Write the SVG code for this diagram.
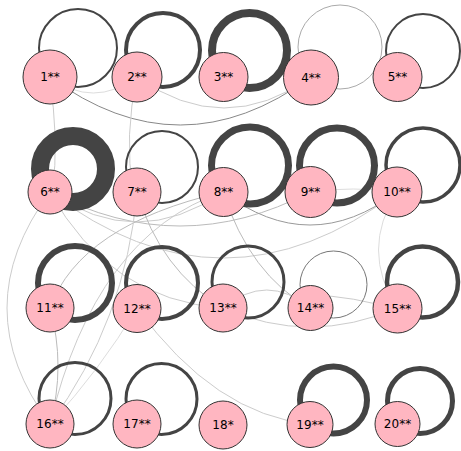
<svg xmlns="http://www.w3.org/2000/svg" width="461" height="451" viewBox="0 0 461 451">
<style>
.e{fill:none;stroke-width:1}
.l{fill:none;stroke:#444}
.n circle{fill:#ffb6c1;stroke:#333;stroke-width:1}
.n text{font-family:"DejaVu Sans",sans-serif;font-size:12px;fill:#000;text-anchor:middle;dominant-baseline:central}
</style>
<rect width="461" height="451" fill="#fff"/>
<g id="connectors">
<path class="e" stroke="#888" d="M50,77 Q180,173 311,77"/>
<path class="e" stroke="#ccc" d="M137,77 Q224,139 311,77"/>
<path class="e" stroke="#ddd" d="M50,77 Q93,109 137,77"/>
<path class="e" stroke="#ccc" d="M49,77 Q60,140 52,192"/>
<path class="e" stroke="#ccc" d="M137,77 Q124,135 133,192"/>
<path class="e" stroke="#ccc" d="M50,192 Q-36,308 50,424"/>
<path class="e" stroke="#ccc" d="M50,192 Q223,324 397,192"/>
<path class="e" stroke="#bbb" d="M50,192 Q180,260 310,192"/>
<path class="e" stroke="#ccc" d="M50,192 Q137,252 223,192"/>
<path class="e" stroke="#999" d="M223,192 Q310,258 397,192"/>
<path class="e" stroke="#ddd" d="M310,192 Q353,186 397,192"/>
<path class="e" stroke="#ddd" d="M397,192 Q360,250 397,308"/>
<path class="e" stroke="#bbb" d="M223,192 Q250,275 310,308"/>
<path class="e" stroke="#bbb" d="M223,192 Q80,225 50,308"/>
<path class="e" stroke="#ccc" d="M223,192 Q95,235 50,424"/>
<path class="e" stroke="#ccc" d="M137,192 Q126,320 50,424"/>
<path class="e" stroke="#bbb" d="M50,308 Q66,366 50,424"/>
<path class="e" stroke="#ddd" d="M137,308 Q100,370 50,424"/>
<path class="e" stroke="#ccc" d="M137,308 Q215,415 310,424"/>
<path class="e" stroke="#ccc" d="M50,192 Q110,300 223,308"/>
<path class="e" stroke="#bbb" d="M137,192 Q160,270 223,308"/>
<path class="e" stroke="#ccc" d="M223,308 Q267,272 310,308"/>
<path class="e" stroke="#ccc" d="M310,295 Q354,296 397,310"/>
<path class="e" stroke="#ccc" d="M223,308 Q310,346 397,308"/>
</g>
<g id="loops">
<circle class="l" cx="78" cy="48" r="39" stroke-width="2"/>
<circle class="l" cx="163" cy="50" r="37" stroke-width="4"/>
<circle class="l" cx="249.5" cy="50.5" r="37.5" stroke-width="8"/>
<circle class="l" cx="340" cy="47" r="42" stroke-width="1" style="stroke:#aaa"/>
<circle class="l" cx="423" cy="51" r="37" stroke-width="2"/>
<circle class="l" cx="73" cy="169" r="33" stroke-width="18"/>
<circle class="l" cx="162" cy="167" r="36" stroke-width="2"/>
<circle class="l" cx="250" cy="165.5" r="38.5" stroke-width="7"/>
<circle class="l" cx="337" cy="165.5" r="37.5" stroke-width="7"/>
<circle class="l" cx="423" cy="165" r="37" stroke-width="3.5"/>
<circle class="l" cx="75" cy="283" r="37" stroke-width="6"/>
<circle class="l" cx="162" cy="283" r="36" stroke-width="4"/>
<circle class="l" cx="248" cy="282" r="36" stroke-width="3"/>
<circle class="l" cx="333.5" cy="284.5" r="33.5" stroke-width="1" style="stroke:#777"/>
<circle class="l" cx="422.5" cy="282" r="35.5" stroke-width="4.5"/>
<circle class="l" cx="75" cy="398.5" r="36" stroke-width="3"/>
<circle class="l" cx="161.5" cy="399" r="35.5" stroke-width="3"/>
<circle class="l" cx="333.5" cy="400" r="33.5" stroke-width="6"/>
<circle class="l" cx="420" cy="401" r="32.5" stroke-width="5"/>
</g>
<g id="n1" class="n"><circle cx="50" cy="77" r="27"/><text x="50" y="77">1**</text></g>
<g id="n2" class="n"><circle cx="137" cy="77" r="25"/><text x="137" y="77">2**</text></g>
<g id="n3" class="n"><circle cx="223.5" cy="77" r="24.5"/><text x="223.5" y="77">3**</text></g>
<g id="n4" class="n"><circle cx="311" cy="77.5" r="27.5"/><text x="311" y="77.5">4**</text></g>
<g id="n5" class="n"><circle cx="397.5" cy="77" r="24.5"/><text x="397.5" y="77">5**</text></g>
<g id="n6" class="n"><circle cx="50" cy="192" r="22"/><text x="50" y="192">6**</text></g>
<g id="n7" class="n"><circle cx="137" cy="192" r="24"/><text x="137" y="192">7**</text></g>
<g id="n8" class="n"><circle cx="223.5" cy="192" r="24.5"/><text x="223.5" y="192">8**</text></g>
<g id="n9" class="n"><circle cx="310.5" cy="192" r="25.5"/><text x="310.5" y="192">9**</text></g>
<g id="n10" class="n"><circle cx="397" cy="192" r="25"/><text x="397" y="192">10**</text></g>
<g id="n11" class="n"><circle cx="50" cy="308" r="24"/><text x="50" y="308">11**</text></g>
<g id="n12" class="n"><circle cx="137" cy="308.5" r="24"/><text x="137" y="308.5">12**</text></g>
<g id="n13" class="n"><circle cx="223" cy="308" r="24"/><text x="223" y="308">13**</text></g>
<g id="n14" class="n"><circle cx="310.5" cy="308" r="22.5"/><text x="310.5" y="308">14**</text></g>
<g id="n15" class="n"><circle cx="397.5" cy="308.5" r="24.5"/><text x="397.5" y="308.5">15**</text></g>
<g id="n16" class="n"><circle cx="50" cy="424" r="24"/><text x="50" y="424">16**</text></g>
<g id="n17" class="n"><circle cx="137" cy="424" r="24"/><text x="137" y="424">17**</text></g>
<g id="n18" class="n"><circle cx="223" cy="425" r="24"/><text x="223" y="425">18*</text></g>
<g id="n19" class="n"><circle cx="310" cy="424.5" r="23"/><text x="310" y="424.5">19**</text></g>
<g id="n20" class="n"><circle cx="397.5" cy="424" r="22.5"/><text x="397.5" y="424">20**</text></g>
</svg>
